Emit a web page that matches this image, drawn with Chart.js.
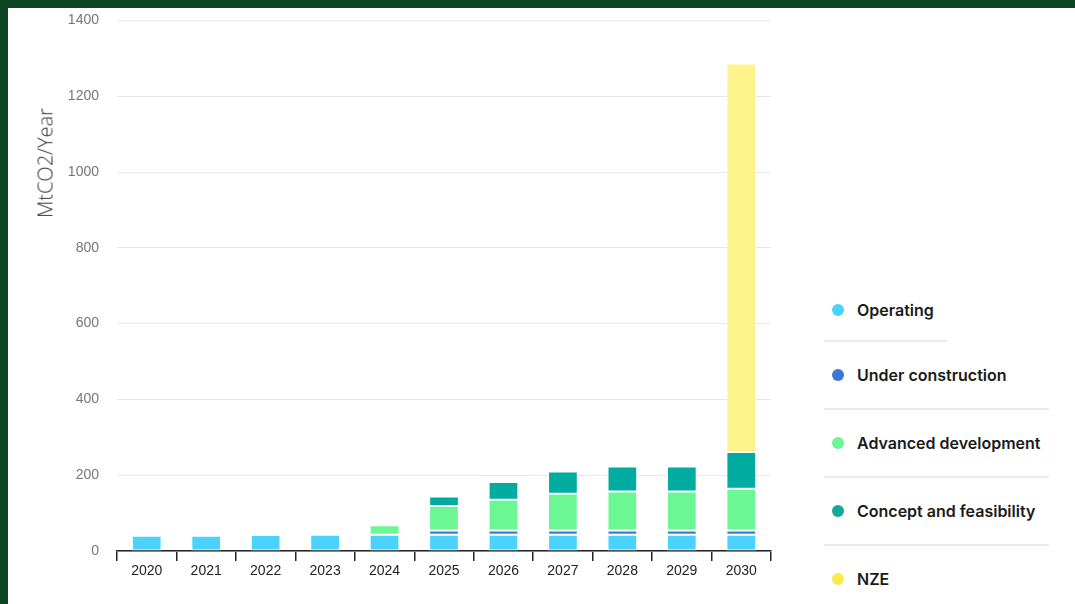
<!DOCTYPE html>
<html>
<head>
<meta charset="utf-8">
<script src="https://cdn.jsdelivr.net/npm/chart.js@4"></script>
<style>
  html, body { margin: 0; padding: 0; }
  body { width: 1075px; height: 604px; background: #0d4423; position: relative; overflow: hidden; }
  #panel { position: absolute; left: 8px; top: 8px; right: 0; bottom: 0; background: #fff; }
  #box { position: absolute; left: 8px; top: -6px; width: 800px; height: 610px; }
  #ytitle { position: absolute; left: 45px; top: 163px; transform: translate(-50%, -50%) rotate(-90deg); white-space: nowrap;
            font-family: "Open Sans", sans-serif; font-weight: 300; font-size: 20px; color: #333; }
  #legend { position: absolute; left: 824px; top: 280px; width: 225px; font-family: Inter, "Noto Sans", sans-serif; }
  .item { height: 66px; display: flex; align-items: center; font-size: 16px; font-weight: 600; color: #1a1a1a; }
  .item.first { height: 60px; }
  .sep { height: 2px; background: #ebebeb; }
  .dot { width: 12px; height: 12px; border-radius: 50%; margin-left: 8px; margin-right: 13px; }
</style>
</head>
<body>
<div id="panel"></div>
<div id="box"><canvas id="chart"></canvas></div>
<div id="ytitle">MtCO2/Year</div>
<div id="legend"></div>
<script>
// Jahre auf der x-Achse
const years = ['2020', '2021', '2022', '2023', '2024', '2025', '2026', '2027', '2028', '2029', '2030'];

// Kapazitaet je Status (MtCO2/Jahr)
const operating    = [40, 40, 42, 43, 43, 43, 43, 43, 43, 43, 43];
const underConstr  = [0, 0, 0, 0, 0, 11, 11, 11, 11, 11, 11];
const advancedDev  = [0, 0, 0, 0, 25, 65, 81, 97, 103, 103, 110];
const conceptFeas  = [0, 0, 0, 0, 0, 25, 47, 59, 66, 66, 97];
const nze          = [0, 0, 0, 0, 0, 0, 0, 0, 0, 0, 1025];

const seriesNames  = ['Operating', 'Under construction', 'Advanced development', 'Concept and feasibility', 'NZE'];
const barColors    = ['#4ad3ff', '#3f7bd9', '#6af794', '#00ab9f', '#fff48c'];
const dotColors    = ['#4ad3ff', '#3f75d6', '#6af794', '#14a89a', '#ffe94a'];

const seriesData = [operating, underConstr, advancedDev, conceptFeas, nze];

const datasets = seriesNames.map((name, i) => ({
    label: name,
    data: seriesData[i],
    backgroundColor: barColors[i],
    borderColor: '#ffffff',
    borderWidth: 1,
    borderSkipped: false,
    barPercentage: 0.5,
    categoryPercentage: 1.0
}));

new Chart(document.getElementById('chart'), {
    type: 'bar',
    data: { labels: years, datasets: datasets },
    options: {
        responsive: true,
        maintainAspectRatio: false,
        animation: false,
        layout: { padding: { top: 0, right: 37, left: 0, bottom: 0 } },
        plugins: { legend: { display: false }, tooltip: { enabled: false } },
        scales: {
            x: {
                stacked: true,
                grid: { display: true, drawOnChartArea: false, offset: true, tickLength: 10, color: '#222', lineWidth: 1.5 },
                border: { display: true, color: '#222', width: 1.5 },
                ticks: { color: '#222', font: { family: 'Liberation Sans, Arial', size: 14 }, padding: 2 },
                afterFit: s => { s.height = 53; }
            },
            y: {
                stacked: true,
                min: 0,
                max: 1400,
                ticks: { stepSize: 200, color: '#777', font: { family: 'Liberation Sans, Arial', size: 14 }, padding: 18,
                         callback: v => String(v) },
                grid: { color: '#e6e6e6', drawTicks: false },
                border: { display: false },
                afterFit: s => { s.width = 109; }
            }
        }
    }
});

// eigene Legende mit Trennlinien
const legend = document.getElementById('legend');
const sepWidths = [123, 225, 225, 225];
seriesNames.forEach((name, i) => {
    const row = document.createElement('div');
    row.className = i === 0 ? 'item first' : 'item';
    row.innerHTML = '<span class="dot" style="background:' + dotColors[i] + '"></span>' + name;
    legend.appendChild(row);
    if (i < sepWidths.length) {
        const sep = document.createElement('div');
        sep.className = 'sep';
        sep.style.width = sepWidths[i] + 'px';
        legend.appendChild(sep);
    }
});
</script>
</body>
</html>
